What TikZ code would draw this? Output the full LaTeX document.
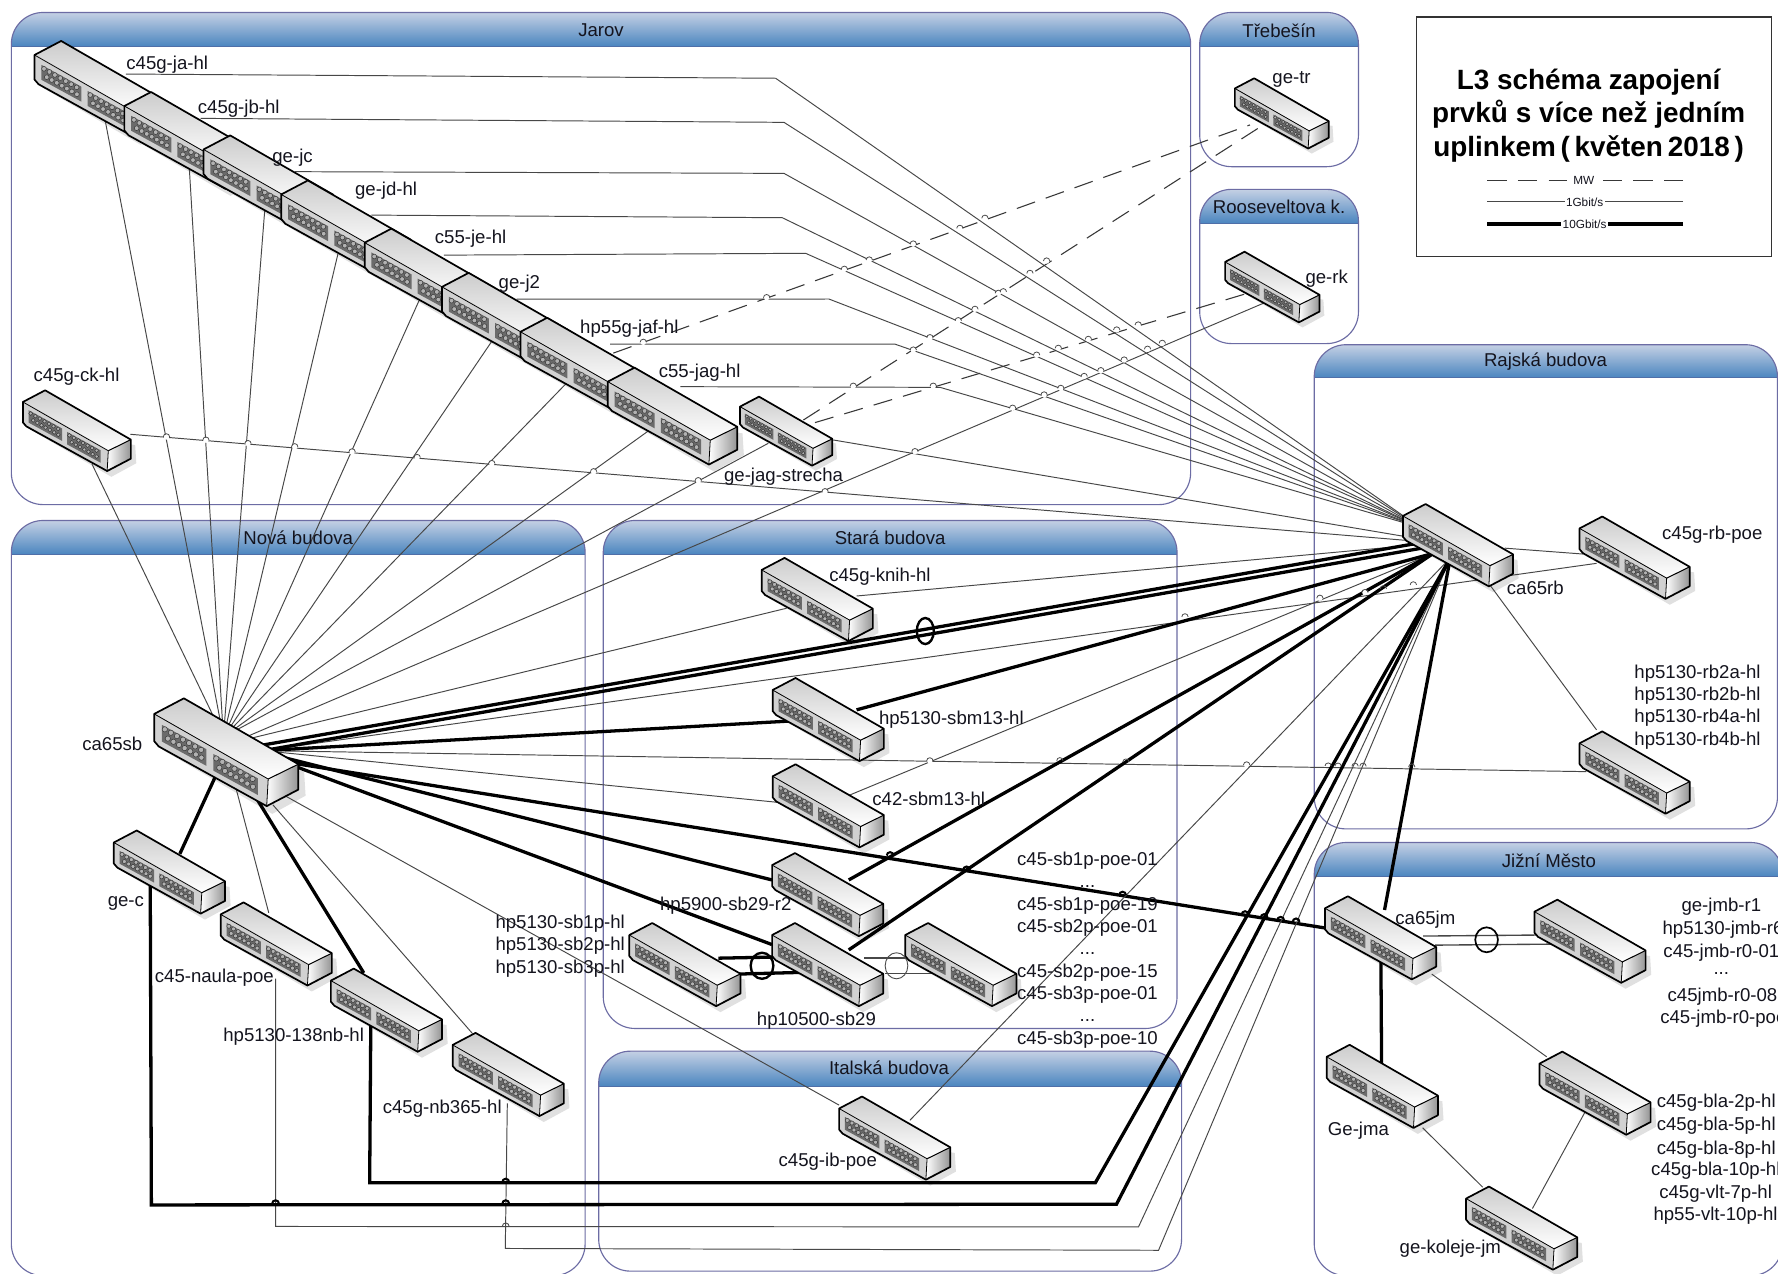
\documentclass[tikz,border=0pt]{standalone}
\usepackage{fontspec}
\setmainfont{Liberation Sans}
\definecolor{grpline}{HTML}{6C6CA4}
\definecolor{hdtop}{HTML}{C4D0E4}
\definecolor{hdbot}{HTML}{4A85BF}
\definecolor{hdline}{HTML}{4F6FA8}
\definecolor{txt}{HTML}{14141E}
\tikzset{
  thinl/.style={draw=black!72,line width=0.85pt},
  thickl/.style={draw=black,line width=2.9pt},
  mwl/.style={draw=black!78,line width=0.95pt,dash pattern=on 17pt off 10pt},
  lab/.style={font=\fontsize{16.4}{19.7}\selectfont,text=txt,inner sep=0pt,align=center,yshift=-1.8pt},
  grptitle/.style={font=\fontsize{16.4}{19.7}\selectfont,text=txt,inner sep=0pt,yshift=-1pt},
  lgd/.style={font=\fontsize{10.4}{12}\selectfont,text=txt,inner sep=1pt},
  ttl/.style={font=\fontsize{24.6}{29.4}\selectfont\bfseries,text=black,align=center,inner sep=0pt,yshift=-1.8pt},
  port/.style={draw=black!78,fill=black!30,line width=0.45pt},
  ring/.style={draw=black,line width=2.1pt},
  ringthin/.style={draw=black!70,line width=0.8pt},
}
% group: x1 y1 x2 y2 yheader
\newcommand\grpbox[5]{%
  \fill[white,rounded corners=28pt] (#1,#2) rectangle (#3,#4);
  \begin{scope}
    \clip[rounded corners=28pt] (#1,#2) rectangle (#3,#4);
    \shade[top color=hdtop,bottom color=hdbot] (#1,#2) rectangle (#3,#5);
    \draw[hdline,line width=1pt] (#1,#5) -- (#3,#5);
  \end{scope}
  \draw[grpline,line width=1pt,rounded corners=28pt] (#1,#2) rectangle (#3,#4);
}
\newcommand\netshadow[2]{%
  \begin{scope}[shift={(#1)},scale=#2]
    \fill[black!12] (6,24) -- (78,66) -- (100,54) -- (99,38) -- cycle;
  \end{scope}
}
\newcommand\netsw[2]{%
  \begin{scope}[shift={(#1)},scale=#2]
    \shade[top color=black!20,bottom color=white]
      (0,0) -- (19.6,-10.3) -- (95.2,33.2) -- (75.3,43) -- cycle;
    \fill[black!18] (0,0) -- (75.3,43) -- (74.3,60.9) -- (3,21.5) -- (0,18) -- cycle;
    \shade[left color=white,right color=black!42]
      (75.3,43) -- (95.2,33.2) -- (95.2,50) -- (74.3,60.9) -- cycle;
    \foreach \g in {6,40}{
      \fill[black!58] (\g-1,{0.566*\g+3.8}) -- (\g+28.5,{0.566*(\g+28.5)+3.8})
        -- (\g+28.5,{0.566*(\g+28.5)+14.8}) -- (\g-1,{0.566*\g+14.8}) -- cycle;
      \foreach \i in {0,...,6}{
        \draw[port] ({\g+1+\i*4},{0.566*(\g+1+\i*4)+6.2}) circle[radius=1.75pt];
        \draw[port] ({\g+3+\i*3.7},{0.566*(\g+3+\i*3.7)+11.2}) circle[radius=1.75pt];
      }
    }
    \draw[black,line width=0.7pt] (0,0) -- (75.3,43) -- (74.3,60.9);
    \draw[black,line width=1.5pt,line join=round]
      (0,0) -- (19.6,-10.3) -- (95.2,33.2) -- (95.2,50) -- (74.3,60.9) -- (3,21.5) -- (0,18) -- cycle;
    \draw[black,line width=0.9pt] (75.3,43) -- (95.2,33.2);
  \end{scope}
}
\begin{document}
\begin{tikzpicture}[x=1pt,y=-1pt]
\useasboundingbox (0,0) rectangle (1568,1123);
\clip (0,0) rectangle (1568,1123);
\fill[white] (0,0) rectangle (1568,1123);

% --- groups
\grpbox{10}{11}{1050}{445}{41}
\grpbox{1058}{11}{1198}{147}{41}
\grpbox{1058}{167}{1198}{303}{197}
\grpbox{1159}{304}{1567.5}{731}{333}
\grpbox{1159}{743}{1572}{1125}{773}
\grpbox{10}{459}{516}{1125}{489}
\grpbox{532}{459}{1038}{907}{489}
\grpbox{528}{927}{1042}{1121}{958}

% --- switch anchors
\coordinate (ja) at (30.4,48.5);
\coordinate (jb) at (109.7,93.5);
\coordinate (jc) at (179.5,131.8);
\coordinate (jd) at (248,171.5);
\coordinate (je) at (321.6,214);
\coordinate (j2) at (389.8,253);
\coordinate (jaf) at (459,292.6);
\coordinate (jag) at (536,336.6);
\coordinate (ck) at (20.2,354.5);
\coordinate (getr) at (1089,78);
\coordinate (gerk) at (1080.4,231);
\coordinate (str) at (652.6,358.6);
\coordinate (rb) at (1237.2,455);
\coordinate (rbpoe) at (1393,466);
\coordinate (rbhp) at (1393,655.5);
\coordinate (knih) at (671.7,502.6);
\coordinate (sbm) at (681.4,608.5);
\coordinate (c42) at (681.4,684.6);
\coordinate (h59) at (680.9,762.9);
\coordinate (h105) at (680.9,824.6);
\coordinate (hsb) at (555,824.6);
\coordinate (csb) at (798.3,824.6);
\coordinate (ib) at (740,977.6);
\coordinate (jm) at (1168.5,801);
\coordinate (jmb) at (1353.2,804);
\coordinate (jma) at (1170,932);
\coordinate (bla) at (1357.6,938);
\coordinate (kol) at (1292.9,1057);
\coordinate (sb) at (136,629.6);
\coordinate (gec) at (100.4,743);
\coordinate (nau) at (194.6,806.4);
\coordinate (nb138) at (291.8,864.8);
\coordinate (nb365) at (399.2,921.5);

% --- soft shadows lie under the connectors
\foreach \n/\s in {ja/1.2,jb/1.2,jc/1.2,jd/1.2,je/1.2,j2/1.2,jaf/1.2,jag/1.2,ck/1,getr/0.87,gerk/0.875,str/0.855,
  rb/1.02,rbpoe/1.02,rbhp/1.02,knih/1.03,sbm/1.03,c42/1.03,h59/1.03,hsb/1.03,h105/1.03,csb/1.03,ib/1.03,
  jm/1.03,jmb/1.03,jma/1.03,bla/1.03,kol/1.03,gec/1.03,nau/1.03,nb138/1.03,nb365/1.03,sb/1.335}{
  \netshadow{\n}{\s}
}

% --- connection ends and bends
\coordinate (Rt) at (1252,465);
\coordinate (Rl) at (1250,475);
\coordinate (Rc) at (1264,488);
\coordinate (Rb) at (1279,492);
\coordinate (St) at (197,650);
\coordinate (Sr) at (205,655);
\coordinate (Sh) at (232,662);

% Jarov horizontals to ca65rb
\foreach \a/\ax/\ay/\bx/\by in {
  ja/111/65.3/684/69, jb/177/104.4/691.4/107.9, jc/260/151.4/691.4/152.9,
  jd/327.4/189.7/689.9/192, je/391.5/225/710.5/223.4, j2/455.6/263.8/731/263.7,
  jaf/538/303.4/789/303.4, jag/600/341/829/341.6}{
  \coordinate (\a-out) at (\ax,\ay);
  \coordinate (\a-bend) at (\bx,\by);
  \draw[thinl] (\a-out) -- (\a-bend) -- (Rt);
}
% Jarov verticals to ca65sb
\foreach \a/\ax/\ay in {ja/92.8/106.5, jb/167/149, jc/233.5/185, jd/298/224, je/369.6/265, j2/433.7/301, jaf/499.5/338, jag/573.2/379, str/677.6/390.9, ck/81/409}{
  \coordinate (\a-dn) at (\ax,\ay);
  \draw[thinl] (\a-dn) -- (St);
}
\coordinate (ck-r) at (115,383);
\draw[thinl] (ck-r) -- (1242,476.7);
\coordinate (str-r) at (734.8,388);
\draw[thinl] (str-r) -- (Rl);
\coordinate (gerk-s) at (1114,267.5);
\draw[thinl] (gerk-s) -- (Sr);

% microwave
\coordinate (jaf-mw) at (540.9,311.4);
\coordinate (getr-a) at (1102.3,110.2);
\coordinate (str-a) at (708.5,370.4);
\coordinate (getr-b) at (1109.7,113);
\coordinate (str-b) at (718.7,372.7);
\coordinate (gerk-a) at (1102.3,258);
\draw[mwl] (jaf-mw) -- (getr-a);
\draw[mwl] (str-a) -- (getr-b);
\draw[mwl] (str-b) -- (gerk-a);

% Stara budova
\coordinate (knih-l) at (693.7,536.4);
\coordinate (knih-r) at (755.4,525.6);
\draw[thinl] (knih-l) -- (Sr);
\draw[thinl] (knih-r) -- (1255,480);
\coordinate (rbpoe-s) at (1408,496.8);
\draw[thinl] (Sh) -- (rbpoe-s);
\coordinate (rbhp-s) at (1399,680.5);
\draw[thinl] (Sh) -- (rbhp-s);
\coordinate (c42-l) at (690,708);
\coordinate (c42-r) at (740,705);
\draw[thinl] (Sh) -- (c42-l);
\draw[thinl] (c42-r) -- (Rc);

\draw[thickl] (232,657) -- (1262,477);
\draw[thickl] (232,662) -- (1262,482);
\coordinate (sbm-l) at (698,635.8);
\coordinate (sbm-r) at (755.4,626);
\draw[thickl] (Sh) -- (sbm-l);
\draw[thickl] (sbm-r) -- (Rc);
\coordinate (h59-l) at (680.8,776);
\coordinate (h59-r) at (748.5,776);
\draw[thickl] (250,668) -- (h59-l);
\draw[thickl] (h59-r) -- (Rc);
\coordinate (h105-l) at (680.8,833);
\coordinate (h105-r) at (748.5,837.7);
\draw[thickl] (250,672) -- (h105-l);
\draw[thickl] (h105-r) -- (Rc);
\coordinate (jm-l) at (1170,818.6);
\draw[thickl] (255,672.5) -- (jm-l);

% double uplinks in the hp10500 group
\draw[thickl] (633.6,845) -- (684,844);
\draw[thickl] (652,859) -- (708,857.5);
\draw[thinl,line width=1.2pt] (762,845) -- (806,845);
\draw[thinl,line width=1.2pt] (780.5,858.4) -- (826,858.4);

% c45g-ib-poe
\coordinate (ib-l) at (740,974.6);
\coordinate (ib-r) at (802.4,988);
\draw[thinl] (250,701) -- (ib-l);
\draw[thinl] (ib-r) -- (Rb);

% Nova budova
\coordinate (gec-u) at (158.6,753);
\coordinate (sb-gec) at (190,684.7);
\draw[thickl] (sb-gec) -- (gec-u);
\coordinate (nau-u) at (237,805);
\draw[thinl] (208,694.7) -- (nau-u);
\coordinate (n138-u) at (320.8,858);
\draw[thickl] (226.6,704.7) -- (n138-u);
\coordinate (n365-u) at (416.7,911.5);
\draw[thinl] (240.6,709.7) -- (n365-u);

\draw[thinl] (447.4,973) -- (445.6,1101) -- (1021.7,1102.6) -- (Rb);
\draw[thinl] (243,863) -- (243,1081.6) -- (1004,1082) -- (Rb);
\draw[thickl,line join=miter] (327,903) -- (326,1043) -- (966,1043) -- (Rb);
\draw[thickl,line join=miter] (132.5,780) -- (133.5,1062.6) -- (984.6,1062) -- (Rb);

% ca65rb local
\draw[thinl] (1327,483.4) -- (1396,488.6);
\coordinate (rbhp-u) at (1408,643.7);
\draw[thinl] (1314,516) -- (rbhp-u);

% Jizni Mesto
\coordinate (jm-u) at (1221,802.5);
\draw[thickl] (Rb) -- (jm-u);
\coordinate (jm-d) at (1217.8,848);
\coordinate (jma-u) at (1218.4,937.6);
\draw[thickl] (jm-d) -- (jma-u);
\draw[thinl,line width=1.2pt] (1255,825.5) -- (1355,824.6);
\draw[thinl,line width=1.2pt] (1265.5,833.5) -- (1370,832.6);
\coordinate (jm-bla) at (1262.6,859);
\coordinate (bla-jm) at (1364,932);
\draw[thinl] (jm-bla) -- (bla-jm);
\coordinate (jma-k) at (1254.6,994.6);
\coordinate (kol-j) at (1307.6,1047);
\draw[thinl] (jma-k) -- (kol-j);
\coordinate (kol-b) at (1351.4,1065.8);
\coordinate (bla-k) at (1397.9,980.5);
\draw[thinl] (kol-b) -- (bla-k);

% line jumps on thin lines
\foreach \x/\y in {146.8/385.3,181.6/388.2,218.7/391.2,259.9/394,310.5/398.5,367.9/403.5,433.7/408.8,523.5/416,615.8/423.9,727.6/433.6,
  752.5/340.6,823/340.6,806.9/398.3,567.3/301.9,676.1/262.5,744.6/237.5,766.6/229.3,805.4/215.2,846.5/201.4,868.6/192.5,
  805.4/308.7,820.1/297.8,845.1/282.8,859.8/272.8,880.4/258.7,884.8/257.3,908.3/241.1,923/230.2,
  1003.8/286.6,984.8/291,959.8/299.3,933.3/307.2,914.2/313.2,
  1025/302.8,1012/308,991.4/317.5,970.8/326.9,956.1/332,935.5/342.5,920.8/348.3,893/360,
  1164/527.6,1203.7/522.6,
  820/671,1099.4/674.6}{
  \fill[white] (\x,\y) circle[radius=2.4pt];
  \draw[black!70,line width=0.7pt] ([xshift=-2.8pt]\x,\y) arc (180:0:2.8pt);
}
% line jumps where a thin line passes a thick one
\foreach \x/\y in {1045/545,1219.9/520.3,1246.4/516.8,934.7/671.9,992.9/673.1,1171.3/676.6,1180/676.7,1195/676.8,1202/676.8,1245/677.5}{
  \draw[black!70,line width=0.7pt] ([xshift=-2.8pt,yshift=1pt]\x,\y) arc (180:0:2.8pt);
}
\foreach \x/\y in {852.4/767.2,990/789.4,785/754.5,1098/806.6,1114.8/809.2,1129.4/811.6,1143/813,243/1061.5,446/1061.5,446/1042.5}{
  \draw[black,line width=1.8pt] ([xshift=-3pt]\x,\y) arc (180:0:3pt);
}
\draw[black!70,line width=0.8pt] (443,1081.5) arc (180:0:3pt);

% --- switches
\netsw{ja}{1.2}\netsw{jb}{1.2}\netsw{jc}{1.2}\netsw{jd}{1.2}
\netsw{je}{1.2}\netsw{j2}{1.2}\netsw{jaf}{1.2}\netsw{jag}{1.2}
\netsw{ck}{1}\netsw{getr}{0.87}\netsw{gerk}{0.875}\netsw{str}{0.855}
\netsw{rb}{1.02}\netsw{rbpoe}{1.02}\netsw{rbhp}{1.02}
\netsw{knih}{1.03}\netsw{sbm}{1.03}\netsw{c42}{1.03}\netsw{h59}{1.03}
\netsw{hsb}{1.03}\netsw{h105}{1.03}\netsw{csb}{1.03}\netsw{ib}{1.03}
\netsw{jm}{1.03}\netsw{jmb}{1.03}\netsw{jma}{1.03}\netsw{bla}{1.03}\netsw{kol}{1.03}
\netsw{gec}{1.03}\netsw{nau}{1.03}\netsw{nb138}{1.03}\netsw{nb365}{1.03}
\netsw{sb}{1.335}

% bundle rings
\draw[ring] (816,556.5) ellipse [x radius=7.5pt,y radius=11.5pt];
\draw[ring] (672,851.7) ellipse [x radius=10pt,y radius=11.5pt];
\draw[ringthin] (790.6,851.7) ellipse [x radius=10pt,y radius=11.5pt];
\draw[black,line width=1.5pt] (1311,828.8) ellipse [x radius=10pt,y radius=11pt];

% --- group titles
\node[grptitle] (tJarov) at (530,26) {Jarov};
\node[grptitle] (tTreb) at (1128,26) {Třebešín};
\node[grptitle] (tRoos) at (1128,181) {Rooseveltova k.};
\node[grptitle] (tRaj) at (1363,318) {Rajská budova};
\node[grptitle] (tNova) at (263,473) {Nová budova};
\node[grptitle] (tStara) at (785,473) {Stará budova};
\node[grptitle] (tItal) at (784,941) {Italská budova};
\node[grptitle] (tJiz) at (1366,758) {Jižní Město};

% --- labels
\node[lab] (l1) at (147.5,55) {c45g-ja-hl};
\node[lab] (l2) at (210.5,94) {c45g-jb-hl};
\node[lab] (l3) at (258,137) {ge-jc};
\node[lab] (l4) at (340.5,166) {ge-jd-hl};
\node[lab] (l5) at (415,209) {c55-je-hl};
\node[lab] (l6) at (458,248) {ge-j2};
\node[lab] (l7) at (555,288) {hp55g-jaf-hl};
\node[lab] (l8) at (617,327) {c55-jag-hl};
\node[lab] (l9) at (67.5,330) {c45g-ck-hl};
\node[lab] (l10) at (691,419) {ge-jag-strecha};
\node[lab] (l11) at (1139,68) {ge-tr};
\node[lab] (l12) at (1170,244) {ge-rk};
\node[lab] (l13) at (776,507) {c45g-knih-hl};
\node[lab] (l14) at (839,633) {hp5130-sbm13-hl};
\node[lab] (l15) at (819,703) {c42-sbm13-hl};
\node[lab] (l16) at (640,797) {hp5900-sb29-r2};
\node[lab] (l17) at (720,898) {hp10500-sb29};
\node[lab] (l18) at (494,832.5) {hp5130-sb1p-hl\\hp5130-sb2p-hl\\hp5130-sb3p-hl};
\node[lab] (l19) at (99,654) {ca65sb};
\node[lab] (l20) at (111,795) {ge-c};
\node[lab] (l21) at (189,860) {c45-naula-poe};
\node[lab] (l22) at (259,912) {hp5130-138nb-hl};
\node[lab] (l23) at (390,976) {c45g-nb365-hl};
\node[lab] (l24) at (730,1023) {c45g-ib-poe};
\node[lab] (l25) at (959,836) {c45-sb1p-poe-01\\...\\c45-sb1p-poe-19\\c45-sb2p-poe-01\\...\\c45-sb2p-poe-15\\c45-sb3p-poe-01\\...\\c45-sb3p-poe-10};
\node[lab] (l26) at (1354,517) {ca65rb};
\node[lab] (l27) at (1510,470) {c45g-rb-poe};
\node[lab] (l28) at (1497,621.5) {hp5130-rb2a-hl\\hp5130-rb2b-hl\\hp5130-rb4a-hl\\hp5130-rb4b-hl};
\node[lab] (l29) at (1257,809) {ca65jm};
\node[lab] (l30) at (1518,798) {ge-jmb-r1};
\node[lab,anchor=west] (l31) at (1466,818) {hp5130-jmb-r6};
\node[lab] (l32) at (1518,838) {c45-jmb-r0-01};
\node[lab] (l33) at (1518,857) {...};
\node[lab] (l34) at (1519,877) {c45jmb-r0-08};
\node[lab,anchor=west] (l35) at (1464,897) {c45-jmb-r0-poe};
\node[lab] (l36) at (1513.5,971) {c45g-bla-2p-hl};
\node[lab] (l37) at (1513.5,991) {c45g-bla-5p-hl};
\node[lab] (l38) at (1513.5,1012) {c45g-bla-8p-hl};
\node[lab,anchor=west] (l39) at (1456,1031) {c45g-bla-10p-hl};
\node[lab] (l40) at (1513,1051) {c45g-vlt-7p-hl};
\node[lab,anchor=west] (l41) at (1458,1070) {hp55-vlt-10p-hl};
\node[lab] (l42) at (1198,995) {Ge-jma};
\node[lab] (l43) at (1279,1099) {ge-koleje-jm};

% --- title box and legend
\node[draw=black!80,fill=white,line width=1pt,minimum width=313pt,minimum height=211pt,anchor=north west,inner sep=0pt] (legend) at (1249,14.5) {};
\node[ttl] (title) at (1401,100) {L3 schéma zapojení\\prvků s více než jedním\\uplinkem\hspace{4.2pt}(\hspace{4.2pt}květen\hspace{4.2pt}2018\hspace{4.2pt})};
\coordinate (lgL1) at (1311.6,158.8);
\coordinate (lgR1) at (1484.4,158.8);
\coordinate (lgL2) at (1311.6,178);
\coordinate (lgR2) at (1484.4,178);
\coordinate (lgL3) at (1311.6,197.6);
\coordinate (lgR3) at (1484.4,197.6);
\node[lgd,inner sep=5pt] (lgMW) at (1396.7,158.8) {MW};
\node[lgd] (lg1G) at (1397.5,178) {1Gbit/s};
\node[lgd] (lg10G) at (1397.5,197.6) {10Gbit/s};
\draw[mwl] (lgL1) -- (lgMW);
\draw[mwl] (lgR1) -- (lgMW);
\draw[thinl] (lgL2) -- (lg1G);
\draw[thinl] (lgR2) -- (lg1G);
\draw[thickl] (lgL3) -- (lg10G);
\draw[thickl] (lgR3) -- (lg10G);
\end{tikzpicture}
\end{document}
